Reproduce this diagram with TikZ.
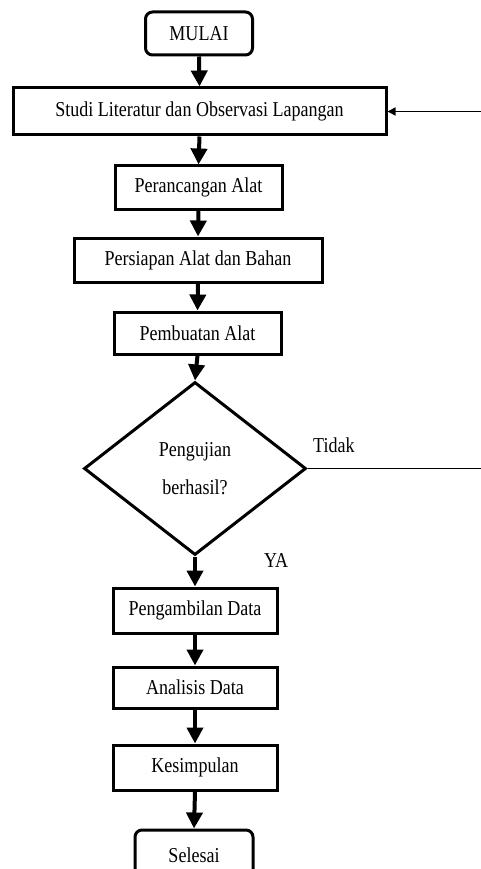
\documentclass[tikz,border=0pt]{standalone}
\usepackage{fontspec}
\setmainfont{Liberation Serif}
\newfontfamily\condfont[FakeStretch=0.85]{Liberation Serif}
\usetikzlibrary{arrows.meta,shapes.geometric}
\begin{document}
\begin{tikzpicture}[x=1pt,y=-1pt,
  txt/.style={font=\condfont\fontsize{21.2}{24}\selectfont},
  box/.style={draw,line width=3pt,rectangle,inner sep=0pt,txt},
  term/.style={box,rounded corners=7pt},
  flow/.style={line width=4pt,-{Triangle[width=16pt,length=16pt]}},
  back/.style={line width=1.6pt,-{Triangle[width=8pt,length=8pt]}},
  lbl/.style={txt,inner sep=0pt}]
\useasboundingbox (0,0) rectangle (480,869);
\node[term,minimum width=107pt,minimum height=43pt] (mulai) at (199,33.5) {MULAI};
\node[box,minimum width=373pt,minimum height=47pt] (studi) at (199.5,111.5) {Studi Literatur dan Observasi Lapangan};
\node[box,minimum width=167pt,minimum height=43pt] (peranc) at (198.5,187.5) {Perancangan Alat};
\node[box,minimum width=248pt,minimum height=44pt] (persiapan) at (198,260) {Persiapan Alat dan Bahan};
\node[box,minimum width=167pt,minimum height=42pt] (pembuatan) at (197.5,333) {Pembuatan Alat};
\node[draw,diamond,line width=3pt,inner sep=0pt,minimum width=222pt,minimum height=173pt,
  align=center,font=\condfont\fontsize{21.2}{38}\selectfont] (uji) at (195,468.5) {Pengujian\\berhasil?};
\node[box,minimum width=164pt,minimum height=45pt] (ambil) at (195,610.5) {Pengambilan Data};
\node[box,minimum width=164pt,minimum height=41pt] (analisis) at (195,687.5) {Analisis Data};
\node[box,minimum width=164pt,minimum height=45pt] (kesimpulan) at (195,767.5) {Kesimpulan};
\node[term,minimum width=118pt,minimum height=52pt] (selesai) at (194,856) {};
\node[lbl] (selesaitxt) at (194,855) {Selesai};
\node[lbl,anchor=base west] (tidak) at (313,452) {Tidak};
\node[lbl,anchor=base west] (ya) at (264,567) {YA};
\coordinate (c1) at (486,468.5);
\coordinate (c2) at (486,111.5);
\draw[flow] (mulai.south) -- (studi.north);
\draw[flow] (studi.south) -- (peranc.north);
\draw[flow] (peranc.south) -- (persiapan.north);
\draw[flow] (persiapan.south) -- (pembuatan.north);
\draw[flow] (pembuatan.south) -- (uji.north);
\draw[flow] (uji.south) -- (ambil.north);
\draw[flow] (ambil.south) -- (analisis.north);
\draw[flow] (analisis.south) -- (kesimpulan.north);
\draw[flow] (kesimpulan.south) -- (selesai.north);
\draw[back] (uji.east) -- (c1) -- (c2) -- (studi.east);
\end{tikzpicture}
\end{document}
